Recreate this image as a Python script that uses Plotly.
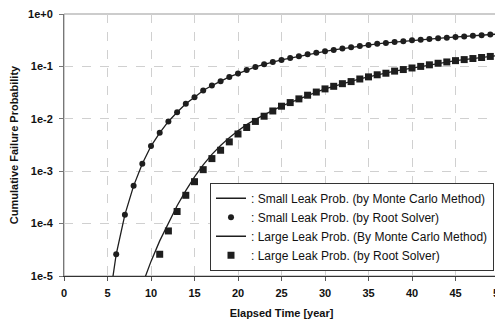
import plotly.graph_objects as go

# ---- data ----
small_rs_years = list(range(6, 51))
small_rs_prob = [2.6e-5, 1.48e-4, 5.25e-4, 1.39e-3, 3.02e-3, 5.41e-3, 8.91e-3, 0.01337,
                 0.0193, 0.02576, 0.0347, 0.0431, 0.052, 0.0631, 0.0729, 0.0857, 0.0977,
                 0.1096, 0.1216, 0.133, 0.1445, 0.1567, 0.1698, 0.182, 0.194, 0.2065,
                 0.2188, 0.2317, 0.2443, 0.257, 0.2692, 0.2805, 0.2917, 0.3034, 0.314,
                 0.3236, 0.3334, 0.3436, 0.3532, 0.3631, 0.3733, 0.3837, 0.3945, 0.4055,
                 0.4159]

small_mc_years = [5.5] + list(range(6, 51))
small_mc_prob = [7e-6] + small_rs_prob

large_rs_years = list(range(11, 51))
large_rs_prob = [2.6e-5, 7.24e-5, 1.70e-4, 3.47e-4, 6.31e-4, 1.07e-3, 1.74e-3, 2.51e-3,
                 3.63e-3, 5.13e-3, 6.82e-3, 8.91e-3, 0.0112, 0.0141, 0.0174, 0.0204,
                 0.024, 0.0282, 0.0324, 0.0372, 0.0417, 0.0468, 0.0513, 0.0575, 0.0631,
                 0.0692, 0.0741, 0.0813, 0.0871, 0.0933, 0.1, 0.1072, 0.1148, 0.1216,
                 0.1288, 0.1349, 0.1413, 0.1479, 0.1549, 0.1622]

large_mc_years = list(range(9, 51))
large_mc_prob = [6.8e-6, 1.9e-5, 4.68e-5, 1.05e-4, 2.19e-4, 4.27e-4, 7.76e-4, 1.32e-3,
                 2.09e-3, 3.09e-3, 4.37e-3, 5.89e-3, 7.76e-3, 9.77e-3, 0.012, 0.01445,
                 0.0174, 0.0204, 0.024, 0.0282, 0.0324, 0.0372, 0.0417, 0.0468, 0.0513,
                 0.0575, 0.0631, 0.0692, 0.0741, 0.0813, 0.0871, 0.0933, 0.1, 0.1072,
                 0.1148, 0.1216, 0.1288, 0.1349, 0.1413, 0.1479, 0.1549, 0.1622]

x_ticks = [0, 5, 10, 15, 20, 25, 30, 35, 40, 45, 50]
y_tickvals = [1e-5, 1e-4, 1e-3, 1e-2, 1e-1, 1]
y_ticktext = ["1e-5", "1e-4", "1e-3", "1e-2", "1e-1", "1e+0"]

labels = [": Small Leak Prob. (by Monte Carlo Method)",
          ": Small Leak Prob. (by Root Solver)",
          ": Large Leak Prob. (By Monte Carlo Method)",
          ": Large Leak Prob. (by Root Solver)"]

FONT = "Liberation Sans, Arial, sans-serif"
INK = "#1e1e1e"

fig = go.Figure()
fig.add_trace(go.Scatter(x=small_mc_years, y=small_mc_prob, mode="lines", name=labels[0],
                         line=dict(color=INK, width=1.3)))
fig.add_trace(go.Scatter(x=small_rs_years, y=small_rs_prob, mode="markers", name=labels[1],
                         marker=dict(symbol="circle", size=6, color=INK)))
fig.add_trace(go.Scatter(x=large_mc_years, y=large_mc_prob, mode="lines", name=labels[2],
                         line=dict(color=INK, width=1.3)))
fig.add_trace(go.Scatter(x=large_rs_years, y=large_rs_prob, mode="markers", name=labels[3],
                         marker=dict(symbol="square", size=7, color=INK)))

# the page body adds an 8px offset, so the figure is sized to fit the window
fig.update_layout(
    width=495, height=314,
    margin=dict(l=56, r=4, t=6, b=46, autoexpand=False),
    paper_bgcolor="white", plot_bgcolor="white",
    font=dict(family=FONT, size=11, color="#111"),
    showlegend=True,
    legend=dict(x=0.9885, xanchor="right", y=0.02, yanchor="bottom",
                bgcolor="white", bordercolor="#333", borderwidth=1,
                font=dict(family=FONT, size=12, color="#111"),
                tracegroupgap=0, itemwidth=30),
)
fig.update_xaxes(
    range=[0, 50], tickvals=x_ticks, ticks="outside", ticklen=4, tickcolor="#555",
    showline=True, linecolor="#333", linewidth=1, mirror=False, automargin=False,
    showgrid=True, gridcolor="#d0d0d0", griddash="dash", gridwidth=1,
    zeroline=False, ticklabeloverflow="allow", ticklabelstandoff=3,
    tickfont=dict(family=FONT, size=11, color="#111", weight="bold"),
    title=dict(text="<b>Elapsed Time [year]</b>", font=dict(family=FONT, size=11, color="#111"),
               standoff=11),
)
fig.update_yaxes(
    type="log", range=[-5, 0], tickvals=y_tickvals, ticktext=y_ticktext,
    ticks="outside", ticklen=4, tickcolor="#777", automargin=False,
    showline=True, linecolor="#777", linewidth=1,
    showgrid=True, gridcolor="#d0d0d0", griddash="dash", gridwidth=1,
    zeroline=False, ticklabelstandoff=4, ticklabeloverflow="allow",
    tickfont=dict(family=FONT, size=11, color="#111", weight="bold"),
    title=dict(text="<b>Cumulative Failure Probability</b>", font=dict(family=FONT, size=11, color="#111"),
               standoff=11),
)
# top/right frame in light gray
fig.add_shape(type="rect", xref="paper", yref="paper", x0=0, x1=1, y0=0, y1=1,
              line=dict(color="#999", width=1), layer="below")

fig.write_html("out.html")
